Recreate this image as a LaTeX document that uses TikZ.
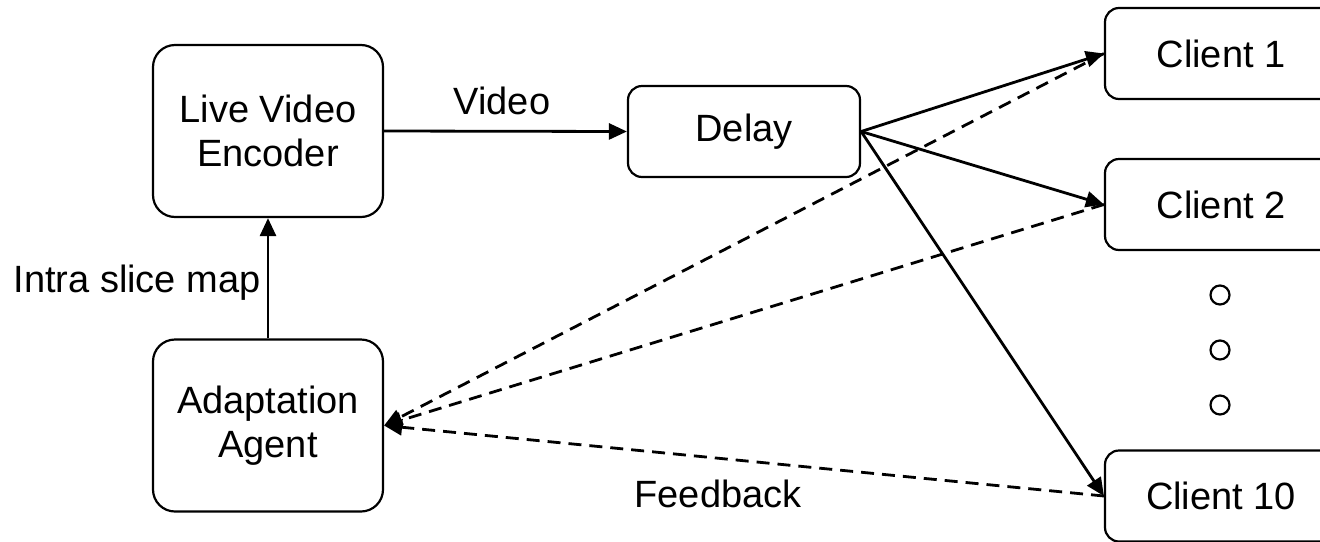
\documentclass[tikz,border=0pt]{standalone}
\usepackage{fontspec}
\setmainfont{Liberation Sans}
\usetikzlibrary{arrows.meta}

\tikzset{
  block/.style={draw=black, line width=1.1pt, rounded corners=11pt, align=center,
    inner sep=0pt, font=\fontsize{19}{22}\selectfont},
  bigblock/.style={block, minimum width=115pt, minimum height=86pt},
  smallblock/.style={block, rounded corners=7pt, minimum width=116pt, minimum height=45.5pt},
  label/.style={inner sep=0pt, font=\fontsize{19}{22}\selectfont},
  flow/.style={line width=1.4pt, -{Triangle[length=9pt,width=8pt]}},
  feedback/.style={flow, dash pattern=on 6.5pt off 4pt},
  ellipsis/.style={draw=black, line width=1.1pt, circle, minimum size=9.5pt, inner sep=0pt}
}

\begin{document}
\begin{tikzpicture}[x=0.5pt, y=-0.5pt]
  \useasboundingbox (0,0) rectangle (1320,541);
  \clip (0,0) rectangle (1320,541);

  % processing chain
  \node[bigblock] (enc) at (268,131) {Live Video\\Encoder};
  \node[bigblock] (agent) at (268,425.5) {Adaptation\\Agent};
  \node[smallblock] (delay) at (744,131.5) {Delay};

  % clients (boxes run past the right margin)
  \node[smallblock] (c1) at (1221,53.5) {Client 1};
  \node[smallblock] (c2) at (1221,204.5) {Client 2};
  \node[smallblock] (c10) at (1221,496) {Client 10};

  % vertical ellipsis between Client 2 and Client 10
  \node[ellipsis] (d1) at (1220,295) {};
  \node[ellipsis] (d2) at (1220,350) {};
  \node[ellipsis] (d3) at (1220,405) {};

  % video path
  \draw[flow] (enc.east) -- (delay.west);
  \node[label] (lvideo) at (502,101) {Video};

  % distribution to clients
  \draw[flow] (delay.east) -- (c1.west);
  \draw[flow] (delay.east) -- (c2.west);
  \draw[flow] (delay.east) -- (c10.west);

  % feedback from clients to the agent
  \draw[feedback] (c1.west) -- (agent.east);
  \draw[feedback] (c2.west) -- (agent.east);
  \draw[feedback] (c10.west) -- (agent.east);
  \node[label] (lfeed) at (718,494) {Feedback};

  % control path
  \draw[flow] (agent.north) -- (enc.south);
  \node[label] (lmap) at (137,283) {Intra slice map};
\end{tikzpicture}
\end{document}
